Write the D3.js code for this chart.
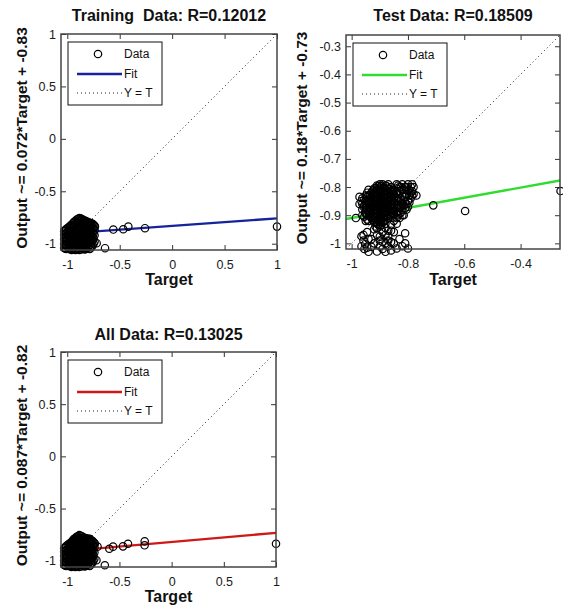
<!DOCTYPE html>
<html>
<head>
<meta charset="utf-8">
<script src="https://cdn.jsdelivr.net/npm/d3@7"></script>
<style>
  body { margin: 0; background: #fff; }
  svg text { font-family: "Liberation Sans", Arial, Helvetica, sans-serif; white-space: pre; }
</style>
</head>
<body>
<svg id="chart" width="563" height="607"></svg>
<script>
// ---- data -------------------------------------------------------------
const panelTitles = ["Training  Data: R=0.12012", "Test Data: R=0.18509", "All Data: R=0.13025"];
const fitSlopes = [0.072, 0.18, 0.087];
const fitIntercepts = [-0.83, -0.73, -0.82];
const axisLimits = [[-1.06, 1], [-1.02, -0.26], [-1.06, 1]];
const xTickValues = [[-1, -0.5, 0, 0.5, 1], [-1, -0.8, -0.6, -0.4], [-1, -0.5, 0, 0.5, 1]];
const yTickValues = [[-1, -0.5, 0, 0.5, 1], [-1, -0.9, -0.8, -0.7, -0.6, -0.5, -0.4, -0.3], [-1, -0.5, 0, 0.5, 1]];
const legendLabels = ["Data", "Fit", "Y = T"];

// training samples: [target, [outputs at that target]]
const trainGroups = [
  [-1.03, [-0.88, -0.915, -0.955, -1.0, -1.04]],
  [-1.02, [-0.87, -0.905, -0.94, -0.975, -1.01, -1.045]],
  [-1.01, [-0.86, -0.9, -0.94, -0.975, -1.02, -1.05]],
  [-0.997, [-0.85, -0.885, -0.92, -0.955, -0.99, -1.03]],
  [-0.985, [-0.84, -0.87, -0.91, -0.945, -0.98, -1.015, -1.05]],
  [-0.972, [-0.83, -0.87, -0.905, -0.94, -0.975, -1.01, -1.045]],
  [-0.96, [-0.82, -0.855, -0.89, -0.925, -0.96, -0.995, -1.03, -1.06]],
  [-0.947, [-0.805, -0.84, -0.875, -0.91, -0.945, -0.98, -1.02, -1.05]],
  [-0.935, [-0.79, -0.825, -0.86, -0.895, -0.93, -0.965, -1.0, -1.035, -1.055]],
  [-0.922, [-0.785, -0.82, -0.855, -0.89, -0.925, -0.96, -0.995, -1.03, -1.06]],
  [-0.91, [-0.77, -0.805, -0.84, -0.875, -0.91, -0.945, -0.98, -1.015, -1.05]],
  [-0.897, [-0.765, -0.8, -0.84, -0.875, -0.91, -0.945, -0.985, -1.02, -1.05]],
  [-0.885, [-0.755, -0.79, -0.825, -0.86, -0.895, -0.93, -0.965, -1.0, -1.035, -1.06]],
  [-0.872, [-0.76, -0.78, -0.815, -0.85, -0.885, -0.92, -0.955, -0.99, -1.025, -1.055]],
  [-0.86, [-0.765, -0.8, -0.835, -0.87, -0.905, -0.94, -0.975, -1.01, -1.045]],
  [-0.847, [-0.775, -0.8, -0.83, -0.865, -0.9, -0.935, -0.97, -1.005, -1.04]],
  [-0.835, [-0.78, -0.815, -0.85, -0.885, -0.92, -0.955, -0.99, -1.025, -1.055]],
  [-0.822, [-0.785, -0.805, -0.84, -0.875, -0.91, -0.945, -0.98, -1.015, -1.05]],
  [-0.81, [-0.79, -0.825, -0.86, -0.895, -0.93, -0.965, -1.0, -1.04]],
  [-0.797, [-0.795, -0.815, -0.85, -0.885, -0.92, -0.955, -0.99, -1.03]],
  [-0.785, [-0.8, -0.835, -0.87, -0.905, -0.94, -0.975, -1.01, -1.05]],
  [-0.772, [-0.805, -0.83, -0.87, -0.91, -0.95, -0.99, -1.035]],
  [-0.76, [-0.81, -0.85, -0.89, -0.93, -0.97, -1.02]],
  [-0.75, [-0.82, -0.85, -0.9, -0.95, -1.0]],
  [-0.74, [-0.83, -0.87, -0.92, -0.98]],
  [-0.736, [-0.837]], [-0.72, [-0.995]], [-0.64, [-1.043]], [-0.561, [-0.865]],
  [-0.466, [-0.862]], [-0.418, [-0.837]], [-0.259, [-0.852]], [1.0, [-0.837]]
];

// test samples: [target, [outputs at that target]]
const testGroups = [
  [-0.985, [-0.91]], [-0.972, [-0.835, -0.86]], [-0.71, [-0.865]], [-0.597, [-0.885]], [-0.258, [-0.814]],
  [-0.965, [-0.85, -0.975, -1.01]], [-0.962, [-0.84, -0.86, -0.88, -0.9]],
  [-0.958, [-0.87, -0.97, -0.99]], [-0.952, [-0.89, -1.003]],
  [-0.955, [-0.845, -0.865, -0.905, -1.02]], [-0.95, [-0.83, -0.85, -0.875, -0.895, -0.92]],
  [-0.945, [-0.82, -0.835, -0.85, -0.865, -0.88, -0.9, -0.915, -0.96, -1.015]],
  [-0.94, [-0.81, -0.83, -0.86, -0.89, -0.92, -0.985, -1.03]],
  [-0.935, [-0.8275, -0.8425, -0.8575, -0.8725, -0.8875, -0.9025]],
  [-0.93, [-0.82, -0.835, -0.85, -0.865, -0.88, -0.895, -0.91, -0.985, -1.012]],
  [-0.925, [-0.8125, -0.8275, -0.8425, -0.8575, -0.8725, -0.8875, -0.9025, -0.9175]],
  [-0.92, [-0.805, -0.82, -0.835, -0.85, -0.865, -0.88, -0.895, -0.91, -0.925, -0.95, -1.0]],
  [-0.915, [-0.8025, -0.8175, -0.8325, -0.8475, -0.8625, -0.8775, -0.8925, -0.9075, -0.9225, -0.94]],
  [-0.91, [-0.795, -0.81, -0.825, -0.84, -0.855, -0.87, -0.885, -0.9, -0.915, -0.93, -0.947, -0.97, -1.029]],
  [-0.905, [-0.7975, -0.8125, -0.8275, -0.8425, -0.8575, -0.8725, -0.8875, -0.9025, -0.9175, -0.9325]],
  [-0.9, [-0.79, -0.805, -0.82, -0.835, -0.85, -0.865, -0.88, -0.895, -0.91, -0.925, -0.94, -0.976, -0.99, -1.01]],
  [-0.895, [-0.7975, -0.8125, -0.8275, -0.8425, -0.8575, -0.8725, -0.8875, -0.9025, -0.9175, -0.935]],
  [-0.89, [-0.79, -0.805, -0.82, -0.835, -0.85, -0.865, -0.88, -0.895, -0.91, -0.925, -0.96, -0.995, -1.02]],
  [-0.885, [-0.8025, -0.8175, -0.8325, -0.8475, -0.8625, -0.8775, -0.8925, -0.9075, -0.9225]],
  [-0.88, [-0.795, -0.81, -0.825, -0.84, -0.855, -0.87, -0.885, -0.9, -0.915, -0.93, -0.945, -0.97, -1.0, -1.03]],
  [-0.875, [-0.7975, -0.8125, -0.8275, -0.8425, -0.8575, -0.8725, -0.8875, -0.9025]],
  [-0.87, [-0.79, -0.805, -0.82, -0.835, -0.85, -0.865, -0.88, -0.895, -0.91, -0.955, -0.975, -0.99, -1.01]],
  [-0.865, [-0.8075, -0.8225, -0.8375, -0.8525, -0.8675, -0.8825, -0.8975]],
  [-0.86, [-0.8, -0.815, -0.83, -0.845, -0.86, -0.875, -0.89, -0.905, -0.935, -0.955, -0.995, -1.025]],
  [-0.855, [-0.8175, -0.8325, -0.8475, -0.8625, -0.8775, -0.8925]],
  [-0.85, [-0.81, -0.825, -0.84, -0.855, -0.87, -0.885, -0.9, -0.92, -0.96, -1.0]],
  [-0.84, [-0.79, -0.805, -0.82, -0.84, -0.86, -0.875, -0.89, -0.91, -0.93, -1.018]],
  [-0.835, [-0.795, -0.825, -0.865, -0.9]],
  [-0.83, [-0.8, -0.815, -0.84, -0.855, -0.875, -0.895, -0.91, -0.985]],
  [-0.825, [-0.8, -0.845, -0.87, -0.89]],
  [-0.82, [-0.79, -0.81, -0.83, -0.86, -0.88, -0.9, -1.01]],
  [-0.815, [-0.81, -0.845, -0.865, -0.9]],
  [-0.81, [-0.8, -0.835, -0.855, -0.875, -0.964, -1.0]],
  [-0.805, [-0.8, -0.825, -0.86, -0.88]],
  [-0.8, [-0.79, -0.815, -0.85, -0.87, -1.018]],
  [-0.795, [-0.81, -0.83, -0.855]],
  [-0.79, [-0.8, -0.82, -0.84]], [-0.785, [-0.79, -0.815, -0.83]],
  [-0.78, [-0.8, -0.825]], [-0.77, [-0.83]]
];

// ---- drawing ----------------------------------------------------------
const flatten = groups => groups.flatMap(([t, ys]) => ys.map(y => ({ t, y })));
const trainPoints = flatten(trainGroups);
const testPoints = flatten(testGroups);
const allPoints = trainPoints.concat(testPoints);

const panels = [
  { points: trainPoints, color: "#16239a", box: { left: 61, top: 34, size: 216 }, ylabX: 27, titleY: 21, xlabY: 285 },
  { points: testPoints,  color: "#2fdc2f", box: { left: 346, top: 35, size: 214 }, ylabX: 307, titleY: 21, xlabY: 285 },
  { points: allPoints,   color: "#d01818", box: { left: 61, top: 352, size: 215 }, ylabX: 27, titleY: 340, xlabY: 602 }
];

const svg = d3.select("#chart");
const fmt = d => String(d);

panels.forEach((p, i) => {
  const { left, top, size } = p.box;
  const lim = axisLimits[i];
  const x = d3.scaleLinear().domain(lim).range([left, left + size]);
  const y = d3.scaleLinear().domain(lim).range([top + size, top]);
  const g = svg.append("g");

  // white plotting area
  g.append("rect").attr("x", left).attr("y", top).attr("width", size).attr("height", size).attr("fill", "#fff");

  // axes with inward ticks on all four sides
  const tickLen = 5;
  const styleAxis = sel => {
    sel.select(".domain").remove();
    sel.selectAll(".tick line").attr("stroke", "#333");
    sel.selectAll(".tick text").attr("fill", "#1a1a1a").style("font-size", "12.5px");
  };
  g.append("g").attr("transform", `translate(0,${top + size})`)
    .call(d3.axisBottom(x).tickValues(xTickValues[i]).tickFormat(fmt).tickSizeInner(-tickLen).tickSizeOuter(0).tickPadding(10))
    .call(styleAxis);
  g.append("g").attr("transform", `translate(0,${top})`)
    .call(d3.axisTop(x).tickValues(xTickValues[i]).tickFormat("").tickSizeInner(-tickLen).tickSizeOuter(0))
    .call(styleAxis);
  g.append("g").attr("transform", `translate(${left},0)`)
    .call(d3.axisLeft(y).tickValues(yTickValues[i]).tickFormat(fmt).tickSizeInner(-tickLen).tickSizeOuter(0).tickPadding(5))
    .call(styleAxis);
  g.append("g").attr("transform", `translate(${left + size},0)`)
    .call(d3.axisRight(y).tickValues(yTickValues[i]).tickFormat("").tickSizeInner(-tickLen).tickSizeOuter(0))
    .call(styleAxis);

  // Y = T reference line
  g.append("line")
    .attr("x1", x(lim[0])).attr("y1", y(lim[0]))
    .attr("x2", x(lim[1])).attr("y2", y(lim[1]))
    .attr("stroke", "#222").attr("stroke-width", 1).attr("stroke-dasharray", "1,3");

  // linear fit line
  const fit = t => fitSlopes[i] * t + fitIntercepts[i];
  g.append("line")
    .attr("x1", x(lim[0])).attr("y1", y(fit(lim[0])))
    .attr("x2", x(lim[1])).attr("y2", y(fit(lim[1])))
    .attr("stroke", p.color).attr("stroke-width", 2.4);

  // data markers
  g.append("g").selectAll("circle").data(p.points).join("circle")
    .attr("cx", d => x(d.t)).attr("cy", d => y(d.y)).attr("r", 3.7)
    .attr("fill", "none").attr("stroke", "#000").attr("stroke-width", 1.2);

  // frame
  g.append("rect").attr("x", left).attr("y", top).attr("width", size).attr("height", size)
    .attr("fill", "none").attr("stroke", "#444").attr("stroke-width", 1.5);

  // legend
  const lg = g.append("g").attr("transform", `translate(${left + 7},${top + 8})`);
  lg.append("rect").attr("width", 94).attr("height", 63)
    .attr("fill", "#fff").attr("stroke", "#111").attr("stroke-width", 1);
  const rows = [12, 32, 51];
  lg.append("circle").attr("cx", 30).attr("cy", rows[0]).attr("r", 3.7)
    .attr("fill", "none").attr("stroke", "#000").attr("stroke-width", 1.2);
  lg.append("line").attr("x1", 9).attr("x2", 54).attr("y1", rows[1]).attr("y2", rows[1])
    .attr("stroke", p.color).attr("stroke-width", 2.4);
  lg.append("line").attr("x1", 9).attr("x2", 54).attr("y1", rows[2]).attr("y2", rows[2])
    .attr("stroke", "#222").attr("stroke-dasharray", "1,3");
  legendLabels.forEach((lab, k) => {
    lg.append("text").attr("x", 56).attr("y", rows[k]).attr("dy", "0.36em")
      .style("font-size", "12px").attr("fill", "#111").text(lab);
  });

  // titles and axis labels
  g.append("text").attr("x", left + size / 2).attr("y", p.titleY)
    .attr("text-anchor", "middle").style("font-size", "16px").style("font-weight", "bold")
    .attr("fill", "#111").text(panelTitles[i]);
  g.append("text").attr("x", left + size / 2).attr("y", p.xlabY)
    .attr("text-anchor", "middle").style("font-size", "16px").style("font-weight", "bold")
    .attr("fill", "#111").text("Target");
  g.append("text")
    .attr("transform", `translate(${p.ylabX},${top + size / 2 - 4}) rotate(-90)`)
    .attr("text-anchor", "middle").style("font-size", "15.5px").style("font-weight", "bold")
    .attr("fill", "#111")
    .text(`Output ~= ${fitSlopes[i]}*Target + ${fitIntercepts[i]}`);
});
</script>
</body>
</html>
